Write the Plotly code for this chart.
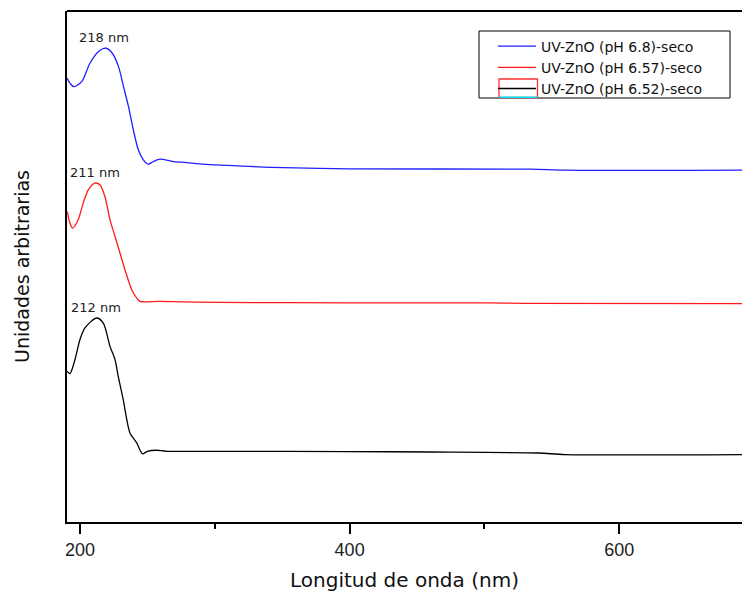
import plotly.graph_objects as go

# ---- data (wavelength in nm, absorbance in arbitrary units) ----
wl_68 = [190.6, 192.6, 195.5, 201.3, 207.4, 213.6, 219.5, 224.0, 228.6, 232.3, 236.0, 239.6,
         243.3, 247.0, 250.7, 254.4, 259.3, 269.2, 279.2, 289.0, 320.0, 342.0, 400.0, 534.0,
         560.0, 691.0]
au_68 = [8.684, 8.587, 8.520, 8.618, 8.978, 9.204, 9.271, 9.173, 8.911, 8.520, 8.129, 7.674,
         7.283, 7.087, 7.003, 7.054, 7.101, 7.054, 7.034, 7.009, 6.965, 6.940, 6.911, 6.905,
         6.886, 6.886]

wl_657 = [190.6, 192.6, 194.6, 198.7, 202.4, 206.2, 211.1, 214.8, 218.5, 222.3, 226.0, 229.7,
          233.4, 238.4, 242.1, 244.5, 259.3, 303.9, 400.0, 504.0, 530.0, 691.0]
au_657 = [6.076, 5.850, 5.752, 5.914, 6.240, 6.500, 6.632, 6.598, 6.370, 5.914, 5.588, 5.263,
          4.936, 4.545, 4.383, 4.317, 4.317, 4.297, 4.290, 4.288, 4.278, 4.275]

wl_652 = [190.6, 192.6, 196.3, 200.0, 203.7, 212.4, 217.3, 222.3, 226.0, 228.4, 232.1, 237.1,
          242.1, 246.4, 249.9, 256.9, 264.3, 303.9, 400.0, 460.0, 540.0, 560.0, 691.0]
au_652 = [2.948, 2.903, 3.177, 3.568, 3.797, 3.992, 3.894, 3.437, 3.177, 2.850, 2.395, 1.744,
          1.548, 1.333, 1.384, 1.404, 1.384, 1.384, 1.378, 1.370, 1.350, 1.320, 1.320]

series_names = ["UV-ZnO (pH 6.8)-seco", "UV-ZnO (pH 6.57)-seco", "UV-ZnO (pH 6.52)-seco"]
series_colors = ["#2020ff", "#ff1a1a", "#000000"]

peak_wl = [218, 211, 212]
peak_au = [9.271, 6.632, 3.992]
peak_labels = ["218 nm", "211 nm", "212 nm"]

x_ticks = [200, 400, 600]
x_minor_ticks = [300, 500]
x_range = [190.4, 691.0]
y_range = [0, 10]

FONT = "Liberation Sans, Arial, sans-serif"
WIDE = "DejaVu Sans, Verdana, sans-serif"

# plot area in pixels (for placing legend decorations in paper units)
PL, PR, PT, PB = 67, 742, 11, 522


def px(x):
    return (x - PL) / (PR - PL)


def py(y):
    return (PB - y) / (PB - PT)


fig = go.Figure()
for wl, au, name, col in zip([wl_68, wl_657, wl_652], [au_68, au_657, au_652],
                             series_names, series_colors):
    fig.add_trace(go.Scatter(x=wl, y=au, mode="lines", name=name,
                             line=dict(color=col, width=1.3, shape="spline", smoothing=0.8)))

for wl, au, lab in zip(peak_wl, peak_au, peak_labels):
    fig.add_annotation(x=wl, y=au, text=lab, showarrow=False, yshift=1,
                       xanchor="center", yanchor="bottom",
                       font=dict(family=WIDE, size=13, color="#222222"))

# top frame line
fig.add_shape(type="line", xref="paper", yref="paper", x0=0, x1=1, y0=1, y1=1,
              line=dict(color="black", width=2))
# legend frame
fig.add_shape(type="rect", xref="paper", yref="paper", x0=px(479), x1=px(730),
              y0=py(98), y1=py(31), line=dict(color="black", width=1))
# stray marks around the third legend symbol (as in the original)
fig.add_shape(type="rect", xref="paper", yref="paper", x0=px(499), x1=px(537.5),
              y0=py(97.5), y1=py(79), line=dict(color="#ff3030", width=1.3))
fig.add_shape(type="line", xref="paper", yref="paper", x0=px(499), x1=px(537.5),
              y0=py(97.3), y1=py(97.3), line=dict(color="#00e5ff", width=1.5))

fig.update_layout(
    width=742, height=597,
    margin=dict(l=PL, r=742 - PR, t=PT, b=597 - PB),
    paper_bgcolor="white", plot_bgcolor="white",
    font=dict(family=FONT, color="black"),
    showlegend=True,
    legend=dict(x=px(493), y=py(30.5), xanchor="left", yanchor="top",
                borderwidth=0, bgcolor="rgba(0,0,0,0)",
                font=dict(family=WIDE, size=14, color="#111111"),
                tracegroupgap=0, itemwidth=38),
    xaxis=dict(range=x_range, tickvals=x_ticks, ticks="outside", ticklen=10, tickwidth=2,
               tickcolor="black", showline=True, linecolor="black", linewidth=2,
               showgrid=False, zeroline=False,
               tickfont=dict(family=FONT, size=18, color="#222222"),
               minor=dict(tickvals=x_minor_ticks, ticks="outside", ticklen=5, tickwidth=2,
                          tickcolor="black"),
               title=dict(text="Longitud de onda (nm)", standoff=14,
                          font=dict(family=WIDE, size=20, color="#111111"))),
    yaxis=dict(range=y_range, showticklabels=False, ticks="", showline=True,
               linecolor="black", linewidth=2, showgrid=False, zeroline=False,
               title=dict(text="Unidades arbitrarias", standoff=30,
                          font=dict(family=WIDE, size=19, color="#111111"))),
)

fig.write_html("out.html")
